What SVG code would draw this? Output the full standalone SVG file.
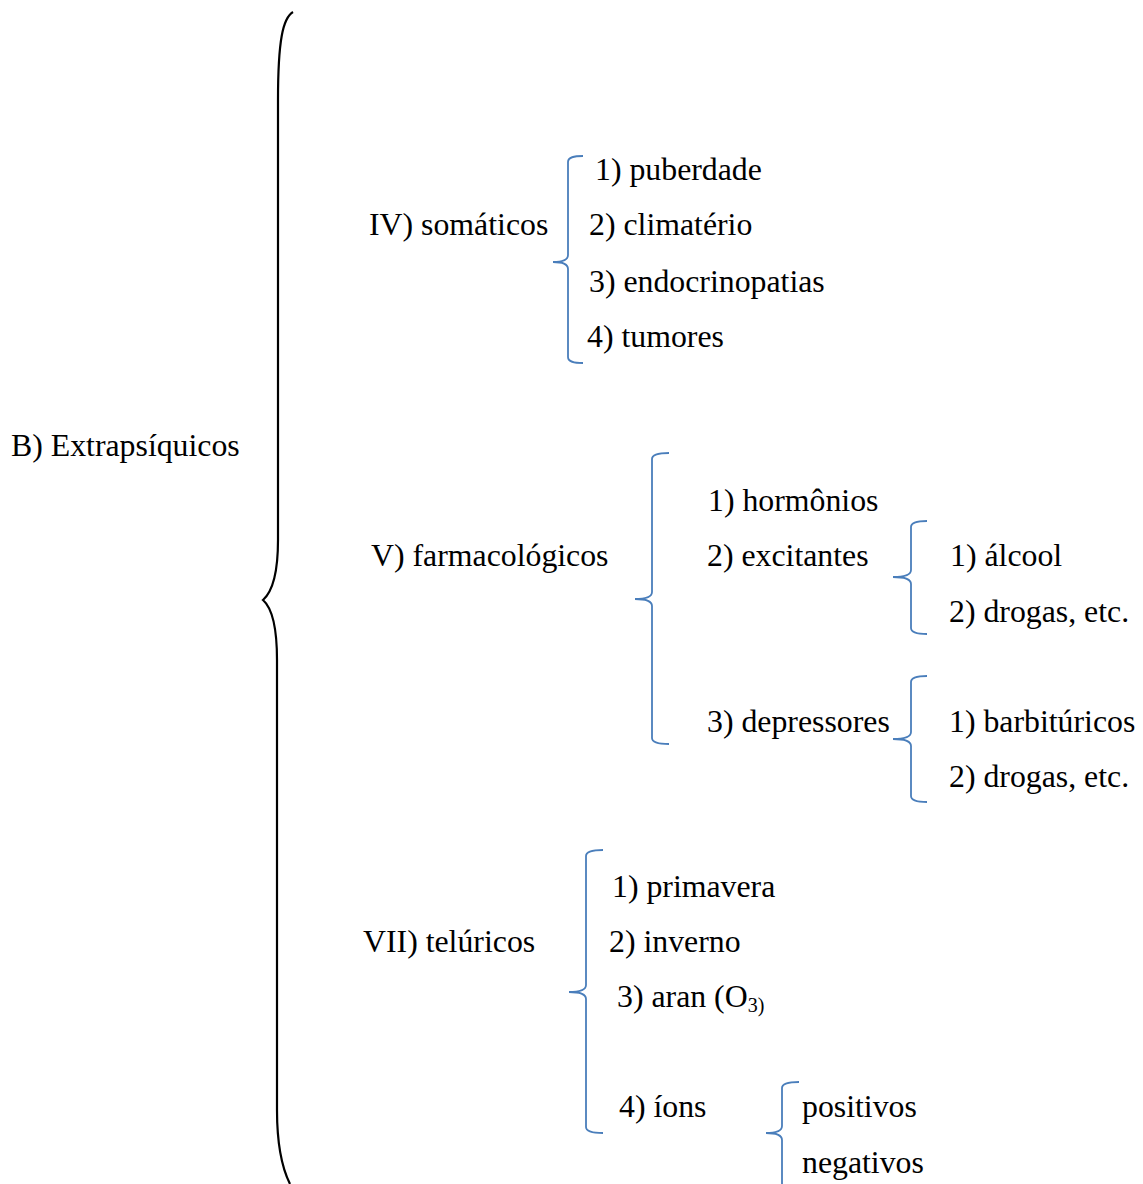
<svg xmlns="http://www.w3.org/2000/svg" width="1143" height="1184" viewBox="0 0 1143 1184">
<style>
text { font-family: "Liberation Serif", "Times New Roman", serif; font-size: 31.8px; fill: #000; }
.b { fill: none; stroke: #4a7ebb; stroke-width: 1.8; }
.big { fill: none; stroke: #000; stroke-width: 2.2; }
</style>
<rect width="1143" height="1184" fill="#fff"/>
<g id="connectors">
<path class="big" d="M293,12 C283,18 278,40 278,100 L278,540 C278,575 272,592 263,600 C272,608 277,625 277,660 L277,1110 C277,1150 283,1170 290,1184"/>
<path class="b" d="M583,156 C574,156 568,157 568,162 L568,255 C568,260 562,262 553,262 C562,262 568,264 568,269 L568,357 C568,362 574,363 583,363"/>
<path class="b" d="M669,453 C660,453 652,454 652,459 L652,592 C652,597 646,599 635,599 C646,599 652,601 652,606 L652,738 C652,743 660,744 669,744"/>
<path class="b" d="M927,521 C918,521 911,522 911,527 L911,570 C911,575 905,577 893,577 C905,577 911,579 911,584 L911,628 C911,633 918,634 927,634"/>
<path class="b" d="M927,676 C918,676 911,677 911,682 L911,732 C911,737 905,739 893,739 C905,739 911,741 911,746 L911,796 C911,801 918,802 927,802"/>
<path class="b" d="M603,850 C594,850 586,851 586,856 L586,985 C586,990 580,992 569,992 C580,992 586,994 586,999 L586,1127 C586,1132 594,1133 603,1133"/>
<path class="b" d="M799,1082 C790,1082 782,1083 782,1088 L782,1126 C782,1131 776,1133 766,1133 C776,1133 782,1135 782,1140 L782,1190"/>
</g>
<g id="n-extrapsiquicos"><text x="11" y="456">B) Extrapsíquicos</text></g>
<g id="n-somaticos"><text x="369" y="235">IV) somáticos</text></g>
<g id="n-puberdade"><text x="595" y="180">1) puberdade</text></g>
<g id="n-climaterio"><text x="589" y="235">2) climatério</text></g>
<g id="n-endocrinopatias"><text x="589" y="292">3) endocrinopatias</text></g>
<g id="n-tumores"><text x="587" y="347">4) tumores</text></g>
<g id="n-farmacologicos"><text x="371" y="566">V) farmacológicos</text></g>
<g id="n-hormonios"><text x="708" y="511">1) hormônios</text></g>
<g id="n-excitantes"><text x="707" y="566">2) excitantes</text></g>
<g id="n-depressores"><text x="707" y="732">3) depressores</text></g>
<g id="n-alcool"><text x="950" y="566">1) álcool</text></g>
<g id="n-drogas1"><text x="949" y="622">2) drogas, etc.</text></g>
<g id="n-barbituricos"><text x="949" y="732">1) barbitúricos</text></g>
<g id="n-drogas2"><text x="949" y="787">2) drogas, etc.</text></g>
<g id="n-teluricos"><text x="363" y="952">VII) telúricos</text></g>
<g id="n-primavera"><text x="612" y="897">1) primavera</text></g>
<g id="n-inverno"><text x="609" y="952">2) inverno</text></g>
<g id="n-aran"><text x="617" y="1007">3) aran (O<tspan font-size="20" dy="5">3)</tspan></text></g>
<g id="n-ions"><text x="619" y="1117">4) íons</text></g>
<g id="n-positivos"><text x="802" y="1117">positivos</text></g>
<g id="n-negativos"><text x="802" y="1173">negativos</text></g>
</svg>
